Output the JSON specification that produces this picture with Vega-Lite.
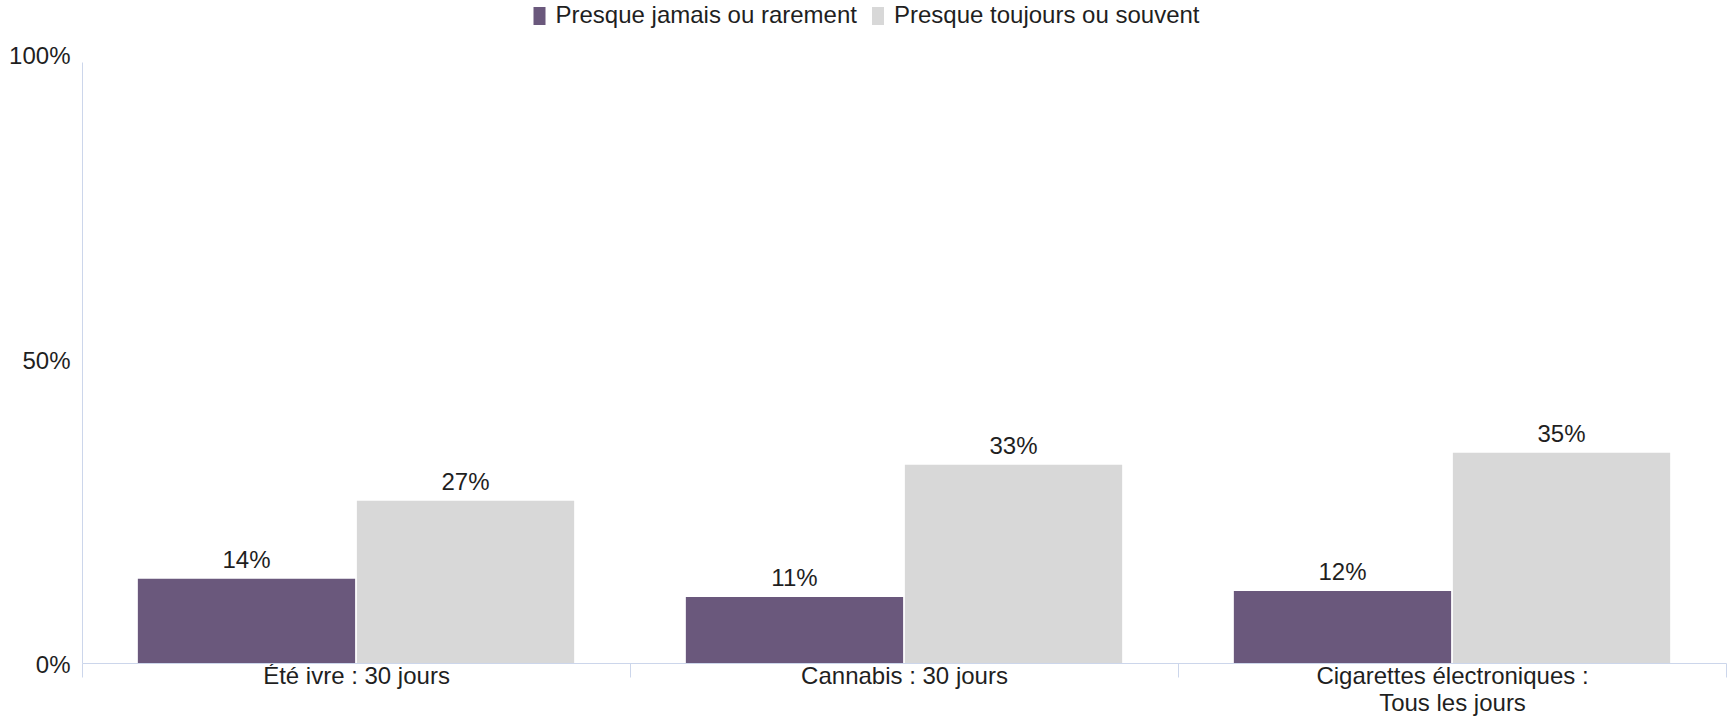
{
  "$schema": "https://vega.github.io/schema/vega-lite/v6.json",
  "width": 1644,
  "height": 601,
  "autosize": {"type": "none"},
  "padding": {"left": 82, "top": 62, "right": 5, "bottom": 54},
  "background": "white",
  "config": {"view": {"stroke": null}, "font": "Liberation Sans"},
  "data": {
    "values": [
      {"category": "Été ivre : 30 jours", "series": "Presque jamais ou rarement", "value": 0.14},
      {"category": "Été ivre : 30 jours", "series": "Presque toujours ou souvent", "value": 0.27},
      {"category": "Cannabis : 30 jours", "series": "Presque jamais ou rarement", "value": 0.11},
      {"category": "Cannabis : 30 jours", "series": "Presque toujours ou souvent", "value": 0.33},
      {"category": "Cigarettes électroniques : Tous les jours", "series": "Presque jamais ou rarement", "value": 0.12},
      {"category": "Cigarettes électroniques : Tous les jours", "series": "Presque toujours ou souvent", "value": 0.35}
    ]
  },
  "encoding": {
    "x": {
      "field": "category",
      "type": "nominal",
      "sort": null,
      "scale": {"paddingInner": 0, "paddingOuter": 0},
      "axis": {
        "title": null,
        "labelAngle": 0,
        "grid": false,
        "domainColor": "#ccd6eb",
        "tickColor": "#ccd6eb",
        "tickSize": 14,
        "tickBand": "extent",
        "labelPadding": -13,
        "labelFontSize": 24,
        "labelColor": "#1f1f1f",
        "labelLineHeight": 27,
        "labelBaseline": "top",
        "labelLimit": 0,
        "labelExpr": "datum.value == 'Cigarettes électroniques : Tous les jours' ? ['Cigarettes électroniques :', 'Tous les jours'] : datum.label"
      }
    },
    "xOffset": {
      "field": "series",
      "type": "nominal",
      "sort": null,
      "scale": {"paddingInner": 0.008, "paddingOuter": 0.255}
    },
    "y": {
      "field": "value",
      "type": "quantitative",
      "scale": {"domain": [0, 1], "nice": false, "zero": true},
      "axis": {
        "title": null,
        "values": [0, 0.5, 1],
        "format": ".0%",
        "grid": false,
        "ticks": false,
        "domainColor": "#ccd6eb",
        "labelPadding": 12,
        "labelFontSize": 24,
        "labelColor": "#1f1f1f",
        "labelBaseline": "middle",
        "labelOffset": {"condition": [{"test": "datum.value == 1", "value": -6}, {"test": "datum.value == 0", "value": 2}], "value": -1.5}
      }
    }
  },
  "layer": [
    {
      "mark": {"type": "bar"},
      "encoding": {
        "color": {
          "field": "series",
          "type": "nominal",
          "sort": null,
          "scale": {"domain": ["Presque jamais ou rarement", "Presque toujours ou souvent"], "range": ["#6a587c", "#d8d8d8"]},
          "legend": {
            "orient": "none",
            "legendX": 445.5,
            "legendY": -58,
            "direction": "horizontal",
            "title": null,
            "symbolType": "M-0.667,-1L0.667,-1L0.667,1L-0.667,1Z",
            "symbolSize": 324,
            "symbolStrokeWidth": 0,
            "labelFontSize": 24,
            "labelColor": "#1f1f1f",
            "labelOffset": 4,
            "columnPadding": 8.5,
            "padding": 0,
            "labelLimit": 0
          }
        }
      }
    },
    {
      "mark": {"type": "text", "baseline": "alphabetic", "dy": -11, "fontSize": 24, "color": "#1f1f1f"},
      "encoding": {"text": {"field": "value", "type": "quantitative", "format": ".0%"}}
    }
  ]
}
